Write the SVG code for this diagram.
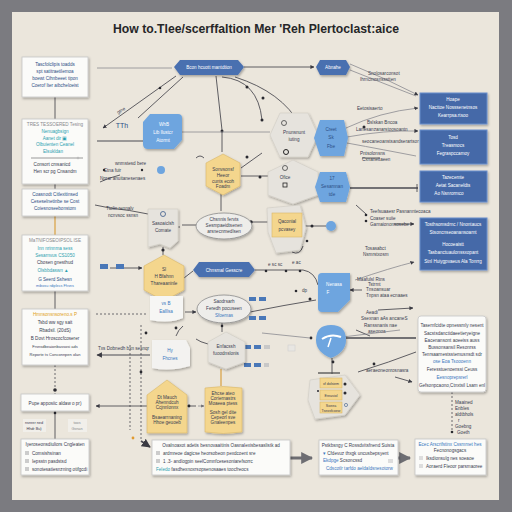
<svg xmlns="http://www.w3.org/2000/svg" width="512" height="512" viewBox="0 0 512 512">
<defs>
<filter id="sh" x="-20%" y="-20%" width="150%" height="160%"><feDropShadow dx="1" dy="1.5" stdDeviation="1.3" flood-color="#000" flood-opacity="0.3"/></filter>
<marker id="ah" viewBox="0 0 10 10" refX="9" refY="5" markerWidth="5" markerHeight="5" orient="auto-start-reverse"><path d="M0,0 L10,5 L0,10 z" fill="#3a3a42"/></marker>
<marker id="ahg" viewBox="0 0 10 10" refX="9" refY="5" markerWidth="4" markerHeight="4" orient="auto-start-reverse"><path d="M0,0 L10,5 L0,10 z" fill="#6d6d72"/></marker>
</defs>
<style>
text{font-family:"Liberation Sans",Arial,sans-serif;font-size:4.6px;fill:#3a4050}
.t{text-anchor:middle}
.w{fill:#fff}
.tl{fill:#2b9fb0}
.db{fill:#2d4f86}
.bl{fill:#3a78c0}
.or{fill:#e0a020}
.gy{fill:#8a8a8e}
.box{fill:#fbfbf9;stroke:#c6c6c6;stroke-width:0.8;filter:url(#sh)}
.bb{fill:#4569a8;stroke:#6a8ecb;stroke-width:1;filter:url(#sh)}
.pill{fill:#4a70b0;filter:url(#sh)}
.lb{fill:#6ea5df;filter:url(#sh)}
.yl{fill:#f4d68d;stroke:#d9b769;stroke-width:0.6;filter:url(#sh)}
.gr{fill:#e6e3dd;stroke:#d0ccc4;stroke-width:0.6;filter:url(#sh)}
.el{fill:#eeedea;stroke:#8c8c8c;stroke-width:0.8;filter:url(#sh)}
.c{fill:none;stroke:#3a3a42;stroke-width:0.8}
.cg{fill:none;stroke:#8a8a90;stroke-width:0.8}
.ct{fill:none;stroke:#4a4a52;stroke-width:1.8}
.cd{fill:none;stroke:#4a4a52;stroke-width:0.8;stroke-dasharray:2 2}
.d{fill:#2a2a30}
.ic{fill:#4a78b8}
.icg{fill:#c8c8c8}
</style>
<rect width="512" height="512" fill="#7b7b80"/>
<rect x="12" y="12" width="487" height="488" fill="#ebe6dc"/>
<text x="256" y="33" class="t" style="font-size:12px;font-weight:bold;fill:#262628" textLength="286" lengthAdjust="spacingAndGlyphs">How to.Tlee/scerffaltion Mer 'Reh Plertoclast:aice</text>

<g id="connectors">
<path class="cg" d="M97,68 H172"/>
<path class="c" d="M244,67 H314" marker-end="url(#ah)"/>
<path class="cg" d="M350,64 Q385,78 418,95" marker-end="url(#ah)"/>
<path class="cg" d="M350,70 Q385,84 416,96"/>
<text x="368" y="75">Snolosarconsot</text>
<text x="360" y="81">Ihrncinosnssstten</text>
<path class="c" d="M176,76 L103,128" marker-end="url(#ah)"/>
<path class="c" d="M183,77 L138,118"/>
<circle class="d" cx="160" cy="88" r="1.3"/>
<text x="118" y="114" transform="rotate(-30 118 114)">gtne</text>
<path class="ct" d="M97,141 H143" style="stroke-width:1.2"/>
<path class="c" d="M216,76 L222,130 L222,152"/>
<circle class="d" cx="222" cy="131" r="1.5"/>
<path class="c" d="M222,77 Q258,80 262,120"/>
<circle class="d" cx="247" cy="87" r="1.5"/>
<circle class="d" cx="262" cy="120" r="1.5"/>
<path class="c" d="M235,77 Q282,92 300,125"/>
<circle class="d" cx="263" cy="98" r="1.5"/>
<path class="cg" d="M182,132 H270"/>
<path class="c" d="M204,158 q-4,-4 -8,0"/>
<path class="c" d="M241,176 H268"/>
<circle class="d" cx="260" cy="177" r="1.5"/>
<path class="c" d="M241,168 L262,153"/>
<circle class="d" cx="247" cy="157" r="1.5"/>
<path class="c" d="M221,194 V211"/>
<path class="cg" d="M346,128 Q380,112 418,108" marker-end="url(#ah)"/>
<path class="cg" d="M347,137 Q385,130 418,131" marker-end="url(#ah)"/>
<path class="cg" d="M347,143 Q385,150 416,156"/>
<path class="c" d="M362,158 H380"/>
<text x="357" y="110">Eetosisaerto</text>
<text x="367" y="124">Bslskan Bncoa</text>
<text x="356" y="131">Lanesanzanarstoosoantn</text>
<text x="362" y="143">seocaneoanstsandserartsor</text>
<text x="360" y="155">Pntsolonsns</text>
<text x="362" y="161">Cxnaneitaeen</text>
<circle class="d" cx="364" cy="127" r="1.5"/>
<path class="ct" d="M350,188 H418" style="stroke-width:1.4"/>
<path class="c" d="M417,184 V192"/>
<path class="c" d="M182,225 H196"/>
<path class="c" d="M252,222 H270"/>
<circle class="d" cx="251" cy="222" r="1.7"/>
<path class="c" d="M303,226 H326"/>
<circle class="d" cx="312" cy="226" r="1.5"/>
<path class="c" d="M184,278 L193,271"/>
<path class="c" d="M255,270 H303 Q315,272 318,285"/>
<circle class="d" cx="266" cy="271" r="1.3"/>
<circle class="d" cx="286" cy="271" r="1.3"/>
<circle class="d" cx="300" cy="271" r="1.3"/>
<text x="268" y="266">e  sc  sc</text>
<path class="c" d="M110,268 H142" marker-end="url(#ah)"/>
<path class="cd" d="M96,314 H148"/>
<path class="c" d="M185,312 H196" marker-end="url(#ah)"/>
<path class="c" d="M250,312 Q285,305 316,300"/>
<circle class="d" cx="310" cy="299" r="1.5"/>
<circle class="d" cx="296" cy="291" r="1.3"/>
<text x="302" y="292">dp</text>
<path class="ct" d="M97,355 H150" style="stroke-width:1.1" marker-start="url(#ah)"/>
<text x="98" y="350">Txs Dobnedh bxn sesnqr</text>
<path class="cd" d="M141,325 V440"/>
<path class="cd" d="M130,345 V430"/>
<circle class="d" cx="141" cy="372" r="1.4"/>
<circle class="d" cx="146" cy="333" r="1.4"/>
<circle style="fill:#e09a30" cx="133" cy="438" r="1.4"/>
<path class="c" d="M55,97 V119"/>
<path class="c" d="M55,184 V189"/>
<path d="M55,216 V235" style="stroke:#d9a040;stroke-width:1.2"/>
<path class="c" d="M55,291 V309"/>
<path class="cd" d="M55,365 V394"/>
<circle class="d" cx="55" cy="390" r="1.8"/>
<path class="c" d="M55,411 V439"/>
<circle class="d" cx="55" cy="413" r="1.3"/>
<path class="c" d="M96,406 H147" marker-start="url(#ah)"/>
<path class="c" d="M187,406 H196"/>
<circle class="d" cx="189" cy="406" r="1.4"/>
<path class="cg" d="M198,406 H204" marker-end="url(#ahg)"/>
<path class="c" d="M222,323 V332"/>
<circle class="d" cx="222" cy="326" r="1.3"/>
<path d="M221,369 V386" style="stroke:#d9a040;stroke-width:1.2"/>
<path class="ct" d="M141,441 L150,447" marker-end="url(#ah)"/>
<path class="c" d="M332,358 V374"/>
<circle class="d" cx="333" cy="362" r="1.4"/>
<path class="ct" d="M346,338 H416" style="stroke-width:1.3"/>
<path class="c" d="M356,330 L370,336"/>
<path class="c" d="M378,310 L413,308" marker-end="url(#ah)"/>
<path class="c" d="M358,372 Q390,362 416,352"/>
<circle class="d" cx="374" cy="364" r="1.4"/>
<circle class="d" cx="311" cy="338" r="1.4"/>
<path class="c" d="M395,377 L412,382" marker-end="url(#ah)"/>
<text x="366" y="314">Aeadi</text>
<text x="361" y="320">Ssexnan aAs ancaneS</text>
<text x="364" y="327">Ranssnanis nae</text>
<text x="368" y="333">aseonoa</text>
<text x="366" y="372">aeraeoneonrosnasra</text>
<path class="cg" d="M262,333 L310,338"/>
<path class="cg" d="M318,340 L400,330"/>
<path class="ct" d="M290,458 H312" style="stroke:#6d6d72;stroke-width:3" marker-end="url(#ahg)"/>
<path class="ct" d="M398,458 H410" style="stroke:#6d6d72;stroke-width:3" marker-end="url(#ahg)"/>
<path class="cd" d="M452,392 V432"/>
<circle class="d" cx="452" cy="432" r="1.3"/>
<text x="455" y="404">Maained</text>
<text x="455" y="410">Enbles</text>
<text x="455" y="416">aldtbhols</text>
<text x="458" y="422">r</text>
<text x="455" y="428">Goebng</text>
<text x="457" y="434">Goeth</text>
<path class="c" d="M356,205 L366,214"/>
<circle class="d" cx="366" cy="215" r="1.3"/>
<circle class="d" cx="366" cy="221" r="1.3"/>
<text x="370" y="213">Teefsuaaesr   Pasnanntecoaca</text>
<text x="370" y="220">Coaser suiie</text>
<text x="370" y="226">Garnaiononsosebe</text>
<path class="c" d="M394,224 H414" marker-end="url(#ah)"/>
<text x="365" y="250">Tosasabct</text>
<text x="363" y="256">Nsmrstxosm</text>
<path class="cg" d="M355,280 Q390,268 414,262" marker-end="url(#ah)"/>
<text x="357" y="281">Maafulsl Rtns</text>
<text x="368" y="286">Tstrmt</text>
<text x="366" y="291">Tnsoansuar</text>
<text x="366" y="297">Tnpsn ataa ecnaaes</text>
<path class="c" d="M350,290 H362" marker-start="url(#ah)"/>
<text x="115" y="165">wnmstesd bere</text>
<text x="104" y="172">Etna fuir</text>
<text x="100" y="180">Nprar anuitanesenaes</text>
<circle class="d" cx="104" cy="170" r="1.2"/>
<circle class="d" cx="142" cy="170" r="1.2"/>
<circle style="fill:#6ea5df" cx="161" cy="170" r="4"/>
<path class="c" d="M120,175 Q108,178 100,182"/>
<path class="c" d="M95,205 L110,208 Q130,210 148,214"/>
<text x="106" y="210">Ttolin rennalv</text>
<text x="108" y="217">ncnvsoc ssnsn</text>
<path class="c" d="M176,227 H180"/>
<path class="c" d="M163,247 V255"/>
<circle class="d" cx="163" cy="250" r="1.6"/>
<path class="c" d="M303,246 Q300,256 292,252"/>
<circle class="d" cx="292" cy="247" r="1.4"/>
<circle class="d" cx="307" cy="241" r="1.3"/>
<text x="292" y="264">e  ac</text>
<path class="c" d="M196,339 Q200,342 208,344"/>
<path class="c" d="M176,336 Q178,330 183,326"/>
<circle class="d" cx="176" cy="328" r="1.4"/>
</g>

<g id="box1"><rect class="box" x="22" y="57" width="66" height="40"/>
<text x="55" y="66" class="t db">Tascfolclipis toadds</text>
<text x="55" y="73" class="t db">spt satitraetilemoa</text>
<text x="55" y="80" class="t db">boewt Cihnbeeet tipon</text>
<text x="55" y="87" class="t db">Coerof Iter aibcheloeist</text></g>

<g id="box2"><rect class="box" x="22" y="119" width="66" height="65"/>
<text x="55" y="126" class="t gy">TRES TESSOERED Tesing</text>
<text x="55" y="133" class="t tl">Nenuagbsign</text>
<text x="55" y="140" class="t tl">Aanet dir  ▣</text>
<text x="55" y="146" class="t tl">Olbuienten Ceanel</text>
<text x="53" y="153" class="t tl">Elsukldan</text>
<path d="M31,158 H83" stroke="#999" stroke-width="1"/>
<circle cx="78" cy="158" r="1.3" fill="#bbb"/>
<text x="52" y="166" class="t">Consort cmsanicd</text>
<text x="55" y="173" class="t">Hen scr pg Cnsandm</text></g>

<g id="box3"><rect class="box" x="22" y="189" width="66" height="27"/>
<text x="55" y="196" class="t db">Coasnodt Citlexitinsed</text>
<text x="55" y="203" class="t db">Ceseselnetinbe se Cost</text>
<text x="55" y="210" class="t db">Coiesnoseebonstom</text></g>

<g id="box4"><rect class="box" x="22" y="235" width="66" height="56"/>
<text x="55" y="242" class="t gy">MaTNIFOSEOIPSOL ISE</text>
<text x="55" y="250" class="t tl">Inn nrinnma sess</text>
<text x="55" y="257" class="t tl">Sesarnvus CS1050</text>
<text x="55" y="264" class="t">Cbosen gnesthud</text>
<text x="53" y="272" class="t tl">Olsbbdaswn ▲</text>
<text x="55" y="281" class="t db">G Seerd Sshesn</text>
<text x="55" y="287" class="t bl" style="font-size:3.8px">mibosu rdiplecs Fhsns</text></g>

<g id="box5"><rect class="box" x="22" y="309" width="66" height="56"/>
<text x="55" y="316" class="t or">Hmnsonsnsoreno.s P</text>
<text x="55" y="324" class="t">Tsbd ww sgy sait</text>
<text x="55" y="332" class="t">Rbadsil. (20dS)</text>
<text x="55" y="340" class="t">B Dovt Hroscocfcoserer</text>
<text x="55" y="348" class="t" style="font-size:4px">Frsnsdbeaionbassosi ads</text>
<text x="55" y="356" class="t" style="font-size:4px">Reporte ts Conconnpen olan</text></g>

<g id="box6"><rect class="box" x="21" y="394" width="68" height="17"/>
<text x="55" y="404.5" class="t">Pupe apposiic aldaw o pr)</text></g>

<g id="tags"><rect x="23" y="419" width="23" height="13" fill="#f1efea"/>
<text x="34" y="424" class="t" style="font-size:3.8px">nsnrer ned</text>
<text x="34" y="430" class="t" style="font-size:3.8px">Hhdr Bu)</text>
<rect x="68" y="419" width="19" height="13" fill="#f1efea"/>
<text x="77" y="424" class="t gy" style="font-size:3.8px">toos</text>
<text x="77" y="430" class="t gy" style="font-size:3.8px">Gsnan</text></g>

<g id="box7"><rect class="box" x="21" y="439" width="68" height="36"/>
<text x="55" y="446" class="t">Iyeroseonsdiuliors Cngleaten</text>
<rect x="25" y="451" width="4" height="4" fill="#ccc"/><text x="32" y="455">Comsishsinan</text>
<rect x="25" y="459" width="4" height="4" fill="#ccc"/><text x="32" y="463">Iepsstn pasdstsd</text>
<rect x="25" y="467" width="4" height="4" fill="#ccc"/><text x="32" y="471">sonotesatiesnzning otifgcdi</text></g>

<g id="box8"><rect class="box" x="152" y="440" width="138" height="35"/>
<text x="221" y="447" class="t">Ovalnoaxot adetis besnovaaitinis Oasnalexisbesaslistk ad</text>
<rect x="156" y="451" width="4" height="4" fill="#ccc"/><text x="163" y="455">ardmreoe dagicse heorsobeon pexdcoent sre</text>
<rect x="156" y="459" width="4" height="4" fill="#ccc"/><text x="163" y="463">1 .3- andlogpin seelComnfcesesoniarefsorrc</text>
<text x="156" y="471"><tspan class="tl">Feledo</tspan> fasdhexnoxrsopsenosaaes toocfreocs</text></g>

<g id="box9"><rect class="box" x="319" y="440" width="79" height="35"/>
<text x="358" y="447" class="t">Pstkbsngy C Rossdvitsfnend Suista</text>
<text x="323" y="455"><tspan class="bl">▾</tspan> Cfdevuz thxgk uncusbepsyent</text>
<text x="323" y="462"><tspan class="bl">Ekdpge</tspan> Scsoncssd</text>
<text x="326" y="470" class="bl">Cdscotlr tarfdo aeldaldsnesotorw</text>
<rect x="388" y="459" width="5" height="4" fill="#ddd"/></g>

<g id="box10"><rect class="box" x="415" y="439" width="71" height="36"/>
<text x="450" y="446" class="t bl">Ecec Arscrifstinx Cssmmet hes</text>
<text x="450" y="452" class="t">Fecnonogsgacs</text>
<rect x="419" y="456" width="4" height="4" fill="#ddd"/><text x="426" y="459.5">Iksdionsulg nes soeaoe</text>
<rect x="419" y="464" width="4" height="4" fill="#ddd"/><text x="426" y="467.5">Aoraerd Fleoor parsmaoree</text></g>

<g id="pill-top"><polygon class="pill" points="174,67 180,60 238,60 244,67 238,75 180,75"/>
<text x="209" y="69" class="t w">Bcon hcuott mantdtion</text></g>
<g id="pill-right"><polygon class="pill" points="316,67 320,60 346,60 350,67 346,75 320,75"/>
<text x="333" y="69" class="t w">Abnahe</text></g>

<g id="r1"><rect class="bb" x="420" y="93" width="67" height="31"/>
<text x="453" y="101" class="t w">Hoape</text>
<text x="453" y="109" class="t w">Nacttoe Nosssenetnsos</text>
<text x="453" y="117" class="t w">Kearrpsa.rtsoo</text></g>
<g id="r2"><rect class="bb" x="420" y="130" width="67" height="34"/>
<text x="453" y="139" class="t w">Tosd</text>
<text x="453" y="147" class="t w">Treasmocs</text>
<text x="453" y="155" class="t w">Fegraspccamoy</text></g>
<g id="r3"><rect class="bb" x="420" y="171" width="67" height="31"/>
<text x="453" y="179" class="t w">Tazecemte</text>
<text x="453" y="187" class="t w">Aetat   Sacaneldts</text>
<text x="449" y="195" class="t w">Ao  Nsnrormco</text></g>
<g id="r4"><rect class="bb" x="420" y="218" width="67" height="52"/>
<text x="453" y="226" class="t w">Tosthsomsdrnc / Nnontaucs</text>
<text x="453" y="234" class="t w">Stsoncnseoanansoarnt</text>
<text x="453" y="246" class="t w">Hocoeaistt</text>
<text x="453" y="254" class="t w">Tasbanctuaulonssxopant</text>
<text x="453" y="263" class="t w">Stnl Huiygpvaeus Ala Tonrrg</text></g>
<g id="r5"><rect class="box" x="418" y="316" width="68" height="76" rx="3"/>
<text x="452" y="327" class="t">Tasernfcidte opnessmly nesent</text>
<text x="452" y="335" class="t">Sacstsdanctidaeetieryeigne</text>
<text x="452" y="342" class="t">Eacenansont  aoeeiss auss</text>
<text x="452" y="349" class="t">Bussonsansil  Resonrss</text>
<text x="452" y="356" class="t">Tenrsaarnestsstemusnsdt sdr</text>
<text x="452" y="363" class="t bl">ose   Eoa   Tsoooenn</text>
<text x="452" y="371" class="t">Feresstuenoenssi  Ceuss</text>
<text x="452" y="379" class="t bl">Eesnoprepsrerl</text>
<text x="452" y="387" class="t">Gefsonpcaono,Ctnxtsil  Lsam enl</text></g>

<g id="blue-left"><path class="lb" d="M150,114 H178 Q182,114 182,118 V140 L174,149 H148 Q143,149 143,144 V122 Z"/>
<text x="164" y="126" class="t w">WhB</text>
<text x="163" y="134" class="t w">Lib llustcr</text>
<text x="163" y="142" class="t w">Atormt</text></g>
<text x="122" y="128" class="t db" style="font-size:7px">TTh</text>

<g id="gray-top"><polygon class="gr" points="280,113 308,113 318,135 308,157 280,157 270,135"/>
<circle cx="284" cy="123" r="2.5" fill="none" stroke="#444" stroke-width="0.8"/>
<text x="294" y="134" class="t">Pnunsnunt</text>
<text x="294" y="141" class="t">iuting</text>
<circle cx="286" cy="152" r="2.5" fill="none" stroke="#222" stroke-width="1"/></g>

<g id="blue-creet"><polygon class="lb" points="320,120 344,120 348,138 344,156 320,156 314,138"/>
<text x="331" y="131" class="t db">Creet</text>
<text x="331" y="139" class="t db">Sk</text>
<text x="331" y="148" class="t db">Fbe</text></g>

<g id="yellow-hex"><polygon class="yl" points="223,154 240,163 240,186 223,195 206,186 206,163"/>
<text x="223" y="171" class="t">Sonvsonsf</text>
<text x="223" y="177" class="t">Heeor</text>
<text x="223" y="183" class="t">cunts ecoh</text>
<text x="223" y="188" class="t">Foadm</text></g>

<g id="gray-ofice"><polygon class="gr" points="293,160 318,172 318,195 293,204 268,195 268,172"/>
<circle cx="285" cy="168" r="2.5" fill="none" stroke="#444" stroke-width="0.8"/>
<text x="285" y="179" class="t">Ofice</text>
<rect x="283" y="183" width="4" height="4" fill="none" stroke="#222" stroke-width="0.8"/></g>

<g id="blue-17"><polygon class="lb" points="320,172 346,172 350,187 346,202 320,202 315,187"/>
<text x="332" y="180" class="t db">17</text>
<text x="332" y="188" class="t db">Sesamnan</text>
<text x="332" y="196" class="t db">tde</text></g>

<g id="gray-comate"><path class="gr" d="M148,209 H178 V241 L170,248 L160,244 L148,247 Z"/>
<circle cx="163" cy="214" r="2.5" fill="none" stroke="#3a5a8a" stroke-width="0.8"/>
<text x="163" y="225" class="t">Sasoaiclsh</text>
<text x="163" y="232" class="t">Comate</text></g>

<g id="ellipse1"><ellipse class="el" cx="224" cy="226" rx="28" ry="13"/>
<text x="224" y="221" class="t">Chsnnis fervts</text>
<text x="224" y="227" class="t">Sesmpaeidtsenen</text>
<text x="224" y="233" class="t">arsnecnmedlsen</text></g>

<g id="yellow-card"><polygon class="gr" points="267,208 300,205 306,228 300,250 276,253 268,232"/>
<rect class="yl" x="272" y="213" width="30" height="24" style="filter:none"/>
<text x="287" y="223" class="t">Qaconial</text>
<text x="287" y="231" class="t">pcvasey</text></g>
<g id="blue-dot"><circle class="lb" cx="331" cy="226" r="5"/></g>

<g id="yellow-hex2"><polygon class="yl" points="164,255 184,266 184,290 164,301 144,290 144,266"/>
<text x="164" y="271" class="t">Sl</text>
<text x="164" y="278" class="t">H Bfahnn</text>
<text x="164" y="285" class="t">Thareaaninle</text></g>

<g id="pill-mid"><polygon class="pill" points="193,270 199,262 249,262 255,270 249,277 199,277"/>
<text x="224" y="272" class="t w">Chnsmal Gesscre</text></g>

<g id="blue-mid"><path class="lb" d="M322,273 H350 V300 L338,312 H322 Q318,312 318,308 V277 Q318,273 322,273 Z"/>
<text x="334" y="286" class="t w">Nenasa</text>
<text x="328" y="294" class="t w">F</text></g>

<g id="tab"><path d="M150,296 H183 V318 Q170,324 150,320 Z" fill="#f6f6f4" filter="url(#sh)"/>
<text x="166" y="305" class="t bl">vs    B</text>
<text x="166" y="313" class="t bl">Ealllsa</text></g>

<g id="ellipse2"><ellipse class="el" cx="224" cy="309" rx="27" ry="14"/>
<text x="224" y="303" class="t">Saodrsarh</text>
<text x="224" y="310" class="t">Feredh pocuseen</text>
<text x="224" y="317" class="t bl">Sfoemas</text></g>

<g id="icons"><rect class="ic" x="100" y="264" width="8" height="5"/><rect class="ic" x="116" y="264" width="8" height="5"/>
<rect class="ic" x="249" y="297" width="7" height="4"/><rect class="ic" x="259" y="297" width="7" height="4"/>
<rect class="ic" x="249" y="316" width="7" height="4"/><rect class="ic" x="259" y="316" width="7" height="4"/>
<rect class="ic" x="244" y="345" width="7" height="4"/><rect class="ic" x="254" y="345" width="7" height="4"/><rect class="icg" x="264" y="345" width="6" height="4"/>
<rect class="ic" x="244" y="363" width="7" height="4"/><rect class="ic" x="254" y="363" width="7" height="4"/><rect class="icg" x="264" y="363" width="5" height="4"/>
<rect x="288" y="345" width="7" height="6" fill="#e8e6e2" stroke="#ccc" stroke-width="0.5"/></g>

<g id="blue-wave"><path class="lb" d="M331,325 Q346,325 346,340 Q346,352 331,358 Q316,352 316,340 Q316,325 331,325 Z"/>
<path d="M322,339 Q331,333 341,337" fill="none" stroke="#fff" stroke-width="2"/>
<path d="M331,338 L328,347" fill="none" stroke="#fff" stroke-width="1.5"/></g>

<g id="white-hy"><path d="M152,340 H186 L190,348 V366 Q170,372 152,368 Z" fill="#f3f2f0" filter="url(#sh)"/>
<text x="170" y="352" class="t bl">Hy</text>
<text x="170" y="360" class="t bl">Fhcnes</text></g>

<g id="gray-hex"><polygon class="gr" points="226,332 245,342 245,362 226,369 208,362 208,342"/>
<text x="226" y="348" class="t">Enfacssh</text>
<text x="226" y="355" class="t">fuoodnslonis</text></g>

<g id="yellow-house"><polygon class="yl" points="167,380 187,395 187,433 147,433 147,395"/>
<text x="167" y="399" class="t">Dt Mauch</text>
<text x="167" y="404" class="t">Ahenndcuh</text>
<text x="167" y="409" class="t">Ccjnnlonnx</text>
<text x="167" y="419" class="t">Bsaearrnaning</text>
<text x="167" y="424" class="t">Hhoe geuoeb</text></g>

<g id="yellow-note"><path class="yl" d="M205,388 Q223,385 242,388 V432 Q223,435 205,432 Z"/>
<text x="223" y="395" class="t">Ehcse ateo</text>
<text x="223" y="400" class="t">Coriernastrs</text>
<text x="223" y="405" class="t">Moaeea ptess</text>
<text x="223" y="414" class="t">Sosh gel dite</text>
<text x="223" y="419" class="t">Cepeorl sve</text>
<text x="223" y="424" class="t">Gnaleenpes</text></g>

<g id="yellow-stack"><polygon class="gr" points="310,380 345,375 360,395 345,415 315,419 308,400"/>
<path d="M318,373 H340" stroke="#444" stroke-width="1.2"/>
<rect class="yl" x="320" y="378" width="22" height="10" style="filter:none"/>
<rect class="yl" x="320" y="390" width="22" height="10" style="filter:none"/>
<rect class="yl" x="320" y="402" width="22" height="11" style="filter:none"/>
<text x="331" y="384.5" class="t" style="font-size:3.6px">xf dolsiem</text>
<text x="331" y="396.5" class="t" style="font-size:3.6px">Ereasiol</text>
<text x="331" y="407" class="t" style="font-size:3.6px">Soeea</text>
<text x="331" y="411.5" class="t" style="font-size:3.6px">Tseosfcoew</text>
<circle class="d" cx="345" cy="384" r="1.5"/>
<circle class="d" cx="345" cy="393" r="1.5"/>
<circle class="d" cx="318" cy="391" r="1"/>
<circle cx="346" cy="405" r="1.6" fill="none" stroke="#3a5a8a" stroke-width="0.6"/></g>
</svg>
